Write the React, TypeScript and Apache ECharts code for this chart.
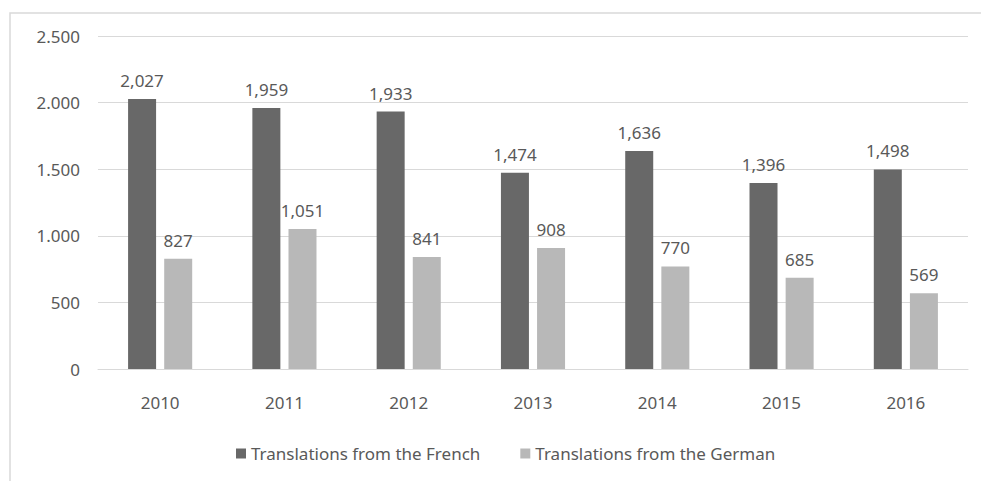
import React, { useEffect, useRef } from "react";
import * as echarts from "echarts";

const years = ["2010", "2011", "2012", "2013", "2014", "2015", "2016"];
const french = [2027, 1959, 1933, 1474, 1636, 1396, 1498];
const german = [827, 1051, 841, 908, 770, 685, 569];
const seriesNames = ["Translations from the French", "Translations from the German"];

const FONT = "Noto Sans";
const TEXT = "#595959";
const FS = 17;

export default function App() {
  const ref = useRef<HTMLDivElement>(null);
  useEffect(() => {
    if (!ref.current) return;
    const chart = echarts.init(ref.current, undefined, { renderer: "svg" });
    const commaFmt = (p: any) => Number(p.value).toLocaleString("en-US");
    chart.setOption({
      animation: false,
      backgroundColor: "#ffffff",
      textStyle: { fontFamily: FONT, color: TEXT },
      graphic: [
        {
          type: "polyline",
          shape: { points: [[10, 490], [10, 13], [990, 13]] },
          style: { stroke: "#d9d9d9", lineWidth: 1.5, fill: "none" },
          silent: true,
        },
      ],
      grid: { left: 98, right: 13, top: 36, bottom: 112, containLabel: false },
      legend: {
        top: 440,
        left: 231,
        itemWidth: 10,
        itemHeight: 10,
        itemGap: 40,
        icon: "rect",
        textStyle: { fontFamily: FONT, fontSize: FS, color: TEXT },
        data: seriesNames,
      },
      xAxis: {
        type: "category",
        data: years,
        axisLine: { lineStyle: { color: "#d9d9d9" } },
        axisTick: { show: false },
        axisLabel: { fontFamily: FONT, fontSize: FS, color: TEXT, margin: 25 },
      },
      yAxis: {
        type: "value",
        min: 0,
        max: 2500,
        interval: 500,
        axisLine: { show: false },
        axisTick: { show: false },
        splitLine: { lineStyle: { color: "#d9d9d9" } },
        axisLabel: {
          fontFamily: FONT,
          fontSize: FS,
          color: TEXT,
          margin: 18,
          formatter: (v: number) => v.toLocaleString("de-DE"),
        },
      },
      series: [
        {
          name: seriesNames[0],
          type: "bar",
          data: french,
          barWidth: 28,
          barGap: "29%",
          itemStyle: { color: "#686868" },
          label: {
            show: true,
            position: "top",
            distance: 10,
            fontFamily: FONT,
            fontSize: FS,
            color: TEXT,
            formatter: commaFmt,
          },
        },
        {
          name: seriesNames[1],
          type: "bar",
          data: german,
          barWidth: 28,
          itemStyle: { color: "#b8b8b8" },
          label: {
            show: true,
            position: "top",
            distance: 10,
            fontFamily: FONT,
            fontSize: FS,
            color: TEXT,
            formatter: commaFmt,
          },
        },
      ],
    });
    return () => chart.dispose();
  }, []);
  return (
    <div
      ref={ref}
      style={{ position: "fixed", left: 0, top: 0, width: 981, height: 481 }}
    />
  );
}
